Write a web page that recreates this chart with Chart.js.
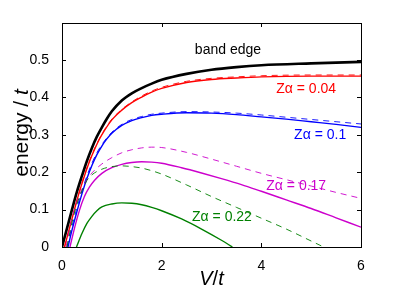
<!DOCTYPE html>
<html>
<head>
<meta charset="utf-8">
<script src="https://cdn.jsdelivr.net/npm/chart.js@4.4.1/dist/chart.umd.min.js"></script>
<style>
  html, body { margin: 0; padding: 0; background: #fff; }
  #wrap { width: 399px; height: 302px; }
</style>
</head>
<body>
<div id="wrap"><canvas id="myChart" width="399" height="302"></canvas></div>
<script>
// values (V/t, energy/t)
var edgeV = [0, 0.1, 0.2, 0.3, 0.4, 0.5, 0.6, 0.7, 0.8, 0.9, 1.0, 1.2, 1.4, 1.6, 1.8, 2.0, 2.5, 3, 3.5, 4, 5, 6];
var edgeE = [0, 0.05, 0.1, 0.148, 0.19, 0.23, 0.265, 0.295, 0.32, 0.343, 0.363, 0.392, 0.411, 0.425, 0.437, 0.447, 0.463, 0.474, 0.481, 0.486, 0.491, 0.495];

var redV = [0.05, 0.15, 0.25, 0.35, 0.45, 0.55, 0.65, 0.75, 0.85, 1.0, 1.2, 1.4, 1.6, 1.8, 2.0, 2.5, 3, 3.5, 4, 5, 6];
var redE = [0, 0.05, 0.1, 0.148, 0.19, 0.228, 0.26, 0.288, 0.311, 0.34, 0.366, 0.386, 0.401, 0.414, 0.424, 0.44, 0.448, 0.452, 0.455, 0.457, 0.457];
var redDashV = [0.05, 0.15, 0.25, 0.35, 0.45, 0.55, 0.65, 0.75, 0.85, 1.0, 1.2, 1.4, 1.6, 1.8, 2.0, 2.5, 3, 3.5, 4, 5, 6];
var redDashE = [0, 0.05, 0.1, 0.149, 0.192, 0.23, 0.262, 0.29, 0.313, 0.342, 0.368, 0.388, 0.404, 0.417, 0.427, 0.443, 0.451, 0.455, 0.458, 0.46, 0.46];

var blueV = [0.12, 0.2, 0.3, 0.4, 0.5, 0.6, 0.7, 0.8, 0.9, 1.0, 1.2, 1.4, 1.6, 1.8, 2.0, 2.5, 3, 3.5, 4, 4.5, 5, 5.5, 6];
var blueE = [0, 0.045, 0.095, 0.142, 0.183, 0.218, 0.247, 0.27, 0.289, 0.304, 0.325, 0.338, 0.346, 0.352, 0.355, 0.359, 0.358, 0.354, 0.348, 0.342, 0.335, 0.328, 0.32];
var blueDashV = [0.1, 0.2, 0.3, 0.4, 0.5, 0.6, 0.7, 0.8, 0.9, 1.0, 1.2, 1.4, 1.6, 1.8, 2.0, 2.5, 3, 3.5, 4, 4.5, 5, 5.5, 6];
var blueDashE = [0, 0.055, 0.105, 0.15, 0.19, 0.224, 0.252, 0.274, 0.292, 0.307, 0.328, 0.341, 0.349, 0.355, 0.358, 0.362, 0.361, 0.358, 0.353, 0.347, 0.341, 0.335, 0.329];

var magV = [0.16, 0.25, 0.35, 0.45, 0.55, 0.65, 0.8, 1.0, 1.2, 1.4, 1.6, 1.8, 2.0, 2.4, 2.8, 3.2, 3.6, 4, 4.5, 5, 5.5, 6];
var magE = [0, 0.05, 0.098, 0.135, 0.16, 0.178, 0.197, 0.212, 0.221, 0.226, 0.228, 0.227, 0.224, 0.212, 0.198, 0.183, 0.167, 0.149, 0.126, 0.103, 0.078, 0.053];
var magDashV = [0.08, 0.2, 0.3, 0.4, 0.5, 0.6, 0.8, 1.0, 1.2, 1.4, 1.6, 1.8, 2.0, 2.5, 3, 3.5, 4, 4.5, 5, 5.5, 6];
var magDashE = [0, 0.075, 0.12, 0.155, 0.18, 0.198, 0.222, 0.239, 0.252, 0.26, 0.265, 0.267, 0.266, 0.253, 0.235, 0.216, 0.197, 0.18, 0.163, 0.146, 0.13];

var grnV = [0.29, 0.4, 0.5, 0.6, 0.7, 0.8, 1.0, 1.2, 1.4, 1.6, 1.8, 2.0, 2.4, 2.8, 3.2, 3.42];
var grnE = [0, 0.036, 0.063, 0.082, 0.097, 0.107, 0.115, 0.118, 0.117, 0.113, 0.106, 0.097, 0.075, 0.048, 0.018, 0];
var grnDashV = [0.1, 0.2, 0.3, 0.4, 0.5, 0.6, 0.8, 1.0, 1.2, 1.4, 1.6, 1.8, 2.0, 2.5, 3, 3.5, 4, 4.5, 5, 5.25];
var grnDashE = [0, 0.065, 0.115, 0.15, 0.178, 0.193, 0.208, 0.215, 0.217, 0.215, 0.211, 0.204, 0.195, 0.166, 0.135, 0.106, 0.077, 0.048, 0.016, 0];

var xTicks = [0, 2, 4, 6];
var yTicks = [0, 0.1, 0.2, 0.3, 0.4, 0.5];

var labels = [
  { text: 'band edge', v: 3.33, e: 0.527, color: '#000000' },
  { text: 'Z\u03b1 = 0.04', v: 4.9, e: 0.422, color: '#ff0000' },
  { text: 'Z\u03b1 = 0.1', v: 5.18, e: 0.30, color: '#0000ff' },
  { text: 'Z\u03b1 = 0.17', v: 4.7, e: 0.163, color: '#cc00cc' },
  { text: 'Z\u03b1 = 0.22', v: 3.21, e: 0.08, color: '#008000' }
];

function pts(xs, ys) {
  var out = [];
  for (var i = 0; i < xs.length; i++) out.push({ x: xs[i], y: ys[i] });
  return out;
}

function line(xs, ys, color, width, dash) {
  return {
    data: pts(xs, ys),
    borderColor: color,
    borderWidth: width,
    borderDash: dash || [],
    pointRadius: 0,
    showLine: true,
    fill: false,
    cubicInterpolationMode: 'monotone'
  };
}

var font = "Helvetica, Arial, 'Liberation Sans', sans-serif";

var boxPlugin = {
  id: 'box',
  afterDatasetsDraw(chart) {
    var c = chart.ctx, a = chart.chartArea;
    var xs = chart.scales.x, ys = chart.scales.y;
    c.save();
    c.strokeStyle = '#000';
    c.lineWidth = 1;
    c.strokeRect(a.left + 0.5, a.top + 0.5, a.right - a.left, a.bottom - a.top);
    c.beginPath();
    xTicks.forEach(function (t) {
      var px = Math.round(xs.getPixelForValue(t)) + 0.5;
      c.moveTo(px, a.bottom); c.lineTo(px, a.bottom - 4);
      c.moveTo(px, a.top); c.lineTo(px, a.top + 4);
    });
    yTicks.forEach(function (t) {
      var py = Math.round(ys.getPixelForValue(t)) + 0.5;
      c.moveTo(a.left, py); c.lineTo(a.left + 4, py);
      c.moveTo(a.right, py); c.lineTo(a.right - 4, py);
    });
    c.stroke();

    // curve labels
    c.font = '14px ' + font;
    c.textAlign = 'center';
    c.textBaseline = 'middle';
    labels.forEach(function (l) {
      c.fillStyle = l.color;
      c.fillText(l.text, xs.getPixelForValue(l.v), ys.getPixelForValue(l.e));
    });

    // axis titles
    c.fillStyle = '#000';
    c.font = 'italic 20px ' + font;
    var w1 = c.measureText('V').width;
    c.font = '20px ' + font;
    var w2 = c.measureText('/').width;
    c.font = 'italic 20px ' + font;
    var w3 = c.measureText('t').width;
    var cx = (a.left + a.right) / 2 - (w1 + w2 + w3) / 2;
    var cy = 279;
    c.textAlign = 'left';
    c.fillText('V', cx, cy);
    c.font = '20px ' + font;
    c.fillText('/', cx + w1, cy);
    c.font = 'italic 20px ' + font;
    c.fillText('t', cx + w1 + w2, cy);

    c.translate(22, 133);
    c.rotate(-Math.PI / 2);
    c.font = '21px ' + font;
    var s1 = c.measureText('energy / ').width;
    c.font = 'italic 21px ' + font;
    var s2 = c.measureText('t').width;
    var sx = -(s1 + s2) / 2;
    c.font = '21px ' + font;
    c.fillText('energy / ', sx, 0);
    c.font = 'italic 21px ' + font;
    c.fillText('t', sx + s1, 0);
    c.restore();
  }
};

var myChart = new Chart(document.getElementById('myChart'), {
  type: 'scatter',
  data: {
    datasets: [
      line(grnDashV, grnDashE, '#008000', 0.9, [6, 5]),
      line(magDashV, magDashE, '#cc00cc', 0.9, [6, 5]),
      line(blueDashV, blueDashE, '#0000ff', 0.9, [6, 5]),
      line(redDashV, redDashE, '#ff0000', 0.9, [6, 5]),
      line(grnV, grnE, '#008000', 1.4),
      line(magV, magE, '#cc00cc', 1.4),
      line(blueV, blueE, '#0000ff', 1.4),
      line(redV, redE, '#ff0000', 1.4),
      line(edgeV, edgeE, '#000000', 2.6)
    ]
  },
  options: {
    responsive: false,
    animation: false,
    layout: { padding: { top: 23, right: 38, left: 0, bottom: 0 } },
    plugins: { legend: false, tooltip: { enabled: false } },
    scales: {
      x: {
        type: 'linear',
        min: 0, max: 6,
        border: { display: false },
        grid: { display: false },
        afterBuildTicks: function (s) { s.ticks = xTicks.map(function (v) { return { value: v }; }); },
        afterFit: function (s) { s.height = 55; },
        ticks: { color: '#000', font: { size: 14, family: font }, padding: 3, maxRotation: 0 }
      },
      y: {
        type: 'linear',
        min: 0, max: 0.599,
        border: { display: false },
        grid: { display: false },
        afterBuildTicks: function (s) { s.ticks = yTicks.map(function (v) { return { value: v }; }); },
        afterFit: function (s) { s.width = 62; },
        ticks: { color: '#000', font: { size: 14, family: font }, padding: 5 }
      }
    }
  },
  plugins: [boxPlugin]
});
</script>
</body>
</html>
